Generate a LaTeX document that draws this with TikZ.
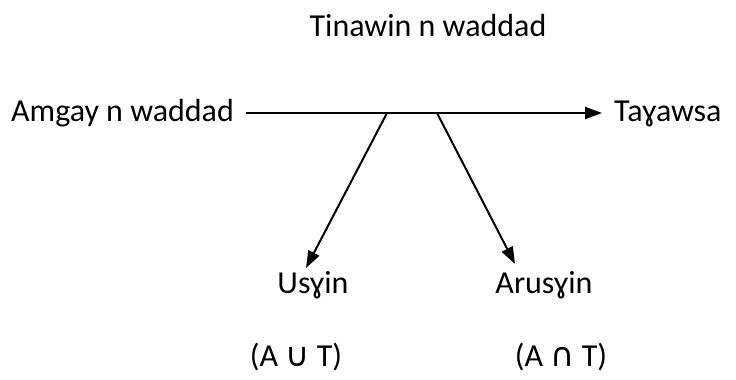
\documentclass[tikz,border=0pt]{standalone}
\usepackage{fontspec}
\setmainfont{Carlito}
\newfontfamily\symfont{DejaVu Sans}
\usetikzlibrary{arrows.meta}
\tikzset{
  lbl/.style={inner sep=0pt, font=\fontsize{32}{38}\selectfont},
  flow/.style={line width=2pt, -{Triangle[length=17pt,width=12pt]}}
}
\newcommand{\setop}[1]{{\symfont\fontsize{33}{38}\selectfont #1}}
\begin{document}
\begin{tikzpicture}[x=1pt,y=-1pt]
  \useasboundingbox (0,0) rectangle (736,380);
  % labels
  \node[lbl, anchor=base] (title) at (428,36) {Tinawin n waddad};
  \node[lbl, anchor=base west] (src) at (11,121) {Amgay n waddad};
  \node[lbl, anchor=base west] (dst) at (614,121) {Taɣawsa};
  \node[lbl, anchor=base] (us) at (313,293) {Usɣin};
  \node[lbl, anchor=base] (arus) at (544,293) {Arusɣin};
  \node[lbl, anchor=base] (uni) at (296,366) {(A \setop{∪} T)};
  \node[lbl, anchor=base] (inter) at (561,366) {(A \setop{∩} T)};
  % main flow
  \coordinate (b1) at (387,113);
  \coordinate (b2) at (437,113);
  \coordinate (t1) at (306,268);
  \coordinate (t2) at (515,264);
  \draw[flow] ([xshift=12pt]src.east |- 0,113) -- ([xshift=-12pt]dst.west |- 0,113);
  % branches
  \draw[flow] (b1) -- (t1);
  \draw[flow] (b2) -- (t2);
\end{tikzpicture}
\end{document}
